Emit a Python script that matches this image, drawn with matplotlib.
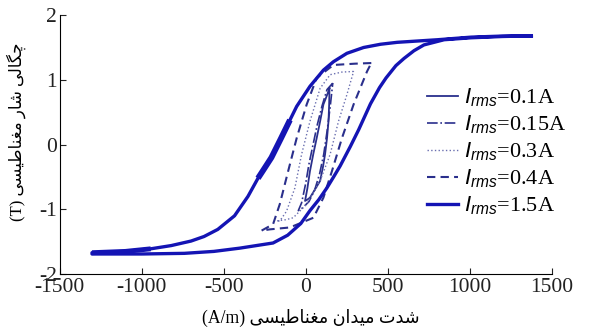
import matplotlib
matplotlib.use("Agg")
import matplotlib.pyplot as plt

plt.rcParams["font.family"] = ["Liberation Serif", "DejaVu Sans"]
plt.rcParams["axes.unicode_minus"] = False
plt.rcParams["mathtext.fontset"] = "custom"
plt.rcParams["mathtext.it"] = "Liberation Sans:italic"
plt.rcParams["mathtext.rm"] = "Liberation Serif"

# Persian labels, written in presentation forms and visual (left-to-right) order
X_LABEL = "(A/m) \ufbfd\ufeb4\ufbff\ufec3\ufe8e\ufee8\ufed0\ufee3 \ufee5\ufe8d\ufeaa\ufbff\ufee3 \ufe95\ufeaa\ufeb7"
Y_LABEL = "(T) \ufbfd\ufeb4\ufbff\ufec3\ufe8e\ufee8\ufed0\ufee3 \ufead\ufe8e\ufeb7 \ufbfd\ufedf\ufe8e\ufb95\ufb7c"

labels = ["0.1A", "0.15A", "0.3A", "0.4A", "1.5A"]

# loops: descending branch (right -> left) followed by ascending branch (left -> right)
h_01 = [145, 128, 108, 88, 67, 46, 26, 10, -4, 10, 26, 55, 88, 105, 118, 130, 139, 143, 145]
b_01 = [0.87, 0.75, 0.62, 0.36, 0.10, -0.15, -0.41, -0.68, -0.87, -0.85, -0.82, -0.70, -0.56, -0.35, -0.15, 0.10, 0.36, 0.62, 0.87]

h_015 = [165, 130, 100, 70, 45, 20, 0, -25, -45, -20, 20, 55, 85, 110, 130, 150, 165]
b_015 = [0.95, 0.85, 0.60, 0.30, 0.00, -0.30, -0.60, -0.90, -1.02, -0.98, -0.88, -0.70, -0.45, -0.15, 0.20, 0.60, 0.95]

h_03 = [292, 220, 149, 88, 26, -25, -66, -117, -158, -178, -120, -76, 6, 88, 149, 200, 251, 292]
b_03 = [1.13, 1.12, 1.08, 0.87, 0.36, -0.15, -0.67, -1.03, -1.18, -1.18, -1.16, -1.13, -0.92, -0.56, -0.15, 0.36, 0.77, 1.13]

h_04 = [400, 300, 169, 67, 6, -55, -107, -158, -199, -270, -220, -96, 47, 108, 160, 221, 292, 374, 400]
b_04 = [1.26, 1.25, 1.23, 1.03, 0.62, 0.10, -0.41, -0.92, -1.23, -1.33, -1.31, -1.28, -1.13, -0.82, -0.41, 0.10, 0.62, 1.13, 1.26]

h_15_down = [1376, 1180, 1008, 804, 558, 456, 353, 251, 169, 108, 26, -55, -96, -150, -209, -260, -291, -352,
             -434, -536, -620, -699, -820, -945, -1100, -1303]
b_15_down = [1.68, 1.675, 1.66, 1.62, 1.58, 1.55, 1.50, 1.41, 1.28, 1.15, 0.90, 0.59, 0.38, 0.10, -0.20, -0.40, -0.52, -0.80,
             -1.10, -1.31, -1.42, -1.49, -1.56, -1.61, -1.65, -1.67]
h_15_up = [-1303, -1000, -740, -560, -403, -199, -110, -30, 26, 80, 129, 170, 210, 272, 323, 395, 450, 490, 550,
           599, 660, 721, 844, 1008, 1200, 1376]
b_15_up = [-1.69, -1.69, -1.68, -1.65, -1.60, -1.52, -1.40, -1.22, -1.02, -0.85, -0.67, -0.50, -0.33, -0.03, 0.23, 0.63, 0.88, 1.03, 1.22,
           1.33, 1.45, 1.54, 1.62, 1.65, 1.67, 1.68]

navy = "#2a2f8c"
blue = "#1414b4"

fig = plt.figure(figsize=(6, 3.29), dpi=100)
ax = fig.add_axes([0.0995, 0.167, 0.82, 0.787])

ax.plot(h_01, b_01, color=navy, lw=1.3, ls="-", label=r"$I_{rms}$=" + labels[0])
ax.plot(h_015, b_015, color=navy, lw=1.2, ls="-.", label=r"$I_{rms}$=" + labels[1])
ax.plot(h_03, b_03, color="#6a6fb0", lw=1.0, ls=":", label=r"$I_{rms}$=" + labels[2])
ax.plot(h_04, b_04, color=navy, lw=1.5, ls=(0, (4, 2.5)), label=r"$I_{rms}$=" + labels[3])
ax.plot(h_15_down + h_15_up, b_15_down + b_15_up, color=blue, lw=2.4, ls="-",
        label=r"$I_{rms}$=" + labels[4], solid_joinstyle="round")
# overlapping cycles make parts of the 1.5 A trace look heavier
ax.plot(h_15_down[12:17], b_15_down[12:17], color=blue, lw=4.2, solid_capstyle="butt")
ax.plot(h_15_down[-3:], b_15_down[-3:], color=blue, lw=3.5, solid_capstyle="butt")

ax.set_xlim(-1500, 1500)
ax.set_ylim(-2, 2)
ax.set_xticks([-1500, -1000, -500, 0, 500, 1000, 1500])
ax.set_yticks([-2, -1, 0, 1, 2])
ax.spines["top"].set_visible(False)
ax.spines["right"].set_visible(False)
ax.tick_params(direction="in", length=4, labelsize=15.5, colors="#222222")
ax.tick_params(axis="x", pad=3)
ax.tick_params(axis="y", pad=2)

ax.set_xlabel(X_LABEL, fontsize=12.7, labelpad=5)
ax.xaxis.set_label_coords(0.51, -0.135)
ax.set_ylabel(Y_LABEL, fontsize=12, labelpad=4)
ax.yaxis.set_label_coords(-0.068, 0.55)

ax.legend(loc="upper left", bbox_to_anchor=(0.685, 0.785), bbox_transform=fig.transFigure,
          frameon=False, fontsize=16, handlelength=1.4, handletextpad=0.3, labelspacing=0.2,
          borderpad=0.2)

fig.savefig("out.png", dpi=100)
